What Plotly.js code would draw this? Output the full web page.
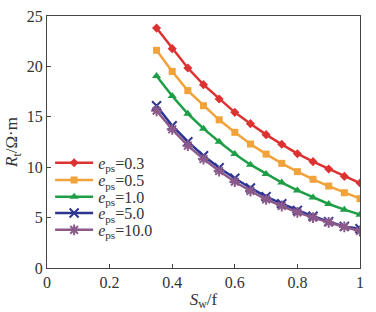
<!DOCTYPE html>
<html>
<head>
<meta charset="utf-8">
<script src="https://cdn.plot.ly/plotly-3.0.1.min.js"></script>
<style>html,body{margin:0;padding:0;background:#fff;}#chart{width:376px;height:312px;}</style>
</head>
<body>
<div id="chart"></div>
<script>
var sw = [0.35, 0.40, 0.45, 0.50, 0.55, 0.60, 0.65, 0.70, 0.75, 0.80, 0.85, 0.90, 0.95, 1.00];
var eps03 = [23.8, 21.76, 19.84, 18.19, 16.77, 15.44, 14.32, 13.23, 12.27, 11.34, 10.55, 9.82, 9.09, 8.43];
var eps05 = [21.6, 19.5, 17.6, 16.1, 14.7, 13.46, 12.3, 11.3, 10.38, 9.56, 8.8, 8.13, 7.47, 6.88];
var eps10 = [19.05, 17.06, 15.3, 13.82, 12.53, 11.3, 10.25, 9.33, 8.47, 7.7, 7.0, 6.35, 5.79, 5.29];
var eps50 = [16.1, 14.12, 12.53, 11.14, 9.95, 8.9, 7.94, 7.08, 6.38, 5.72, 5.13, 4.6, 4.13, 3.9];
var eps100 = [15.6, 13.76, 12.14, 10.81, 9.62, 8.56, 7.64, 6.81, 6.15, 5.52, 5.0, 4.53, 4.07, 3.67];
var seriesNames = ['<i>e</i><sub>ps</sub>=0.3', '<i>e</i><sub>ps</sub>=0.5', '<i>e</i><sub>ps</sub>=1.0', '<i>e</i><sub>ps</sub>=5.0', '<i>e</i><sub>ps</sub>=10.0'];
var xTickVals = [0, 0.2, 0.4, 0.6, 0.8, 1];
var xTickText = ['0', '0.2', '0.4', '0.6', '0.8', '1'];
var yTickVals = [0, 5, 10, 15, 20, 25];

var series = [eps03, eps05, eps10, eps50, eps100];
var colors = ['#dc3232', '#f2a23a', '#1f9e48', '#2d3592', '#8c5a8a'];
var symbols = ['diamond', 'square', 'triangle-up', 'x-thin-open', 'asterisk-open'];
var sizes = [7, 7, 8, 9, 9];
var legendIds = ['legend', 'legend2', 'legend3', 'legend4', 'legend5'];
var legendY = [0.417, 0.349, 0.282, 0.218, 0.151];

var traces = series.map(function (ys, i) {
  return {
    x: sw, y: ys, name: seriesNames[i], type: 'scatter', mode: 'lines+markers',
    legend: legendIds[i],
    line: {color: colors[i], width: 2.5},
    marker: {symbol: symbols[i], size: sizes[i], color: colors[i], line: {color: colors[i], width: (i >= 3 ? 2 : 0)}}
  };
});

var font = 'Liberation Serif, Times New Roman, serif';
var layout = {
  width: 376, height: 312,
  margin: {l: 47, r: 16, t: 16, b: 44},
  paper_bgcolor: '#fff', plot_bgcolor: '#fff',
  font: {family: font, size: 16, color: '#333'},
  showlegend: true,
  xaxis: {
    range: [0, 1], tickvals: xTickVals, ticktext: xTickText,
    ticks: 'inside', ticklen: 4, tickcolor: '#444', showgrid: false, zeroline: false,
    showline: true, linecolor: '#444', linewidth: 1, mirror: true,
    tickfont: {family: font, size: 16, color: '#333'},
    title: {text: '<i>S</i><sub>w</sub>/f', font: {family: font, size: 17, color: '#333'}, standoff: 2}
  },
  yaxis: {
    range: [0, 25], tickvals: yTickVals,
    ticks: 'inside', ticklen: 4, tickcolor: '#444', showgrid: false, zeroline: false,
    showline: true, linecolor: '#444', linewidth: 1, mirror: true,
    tickfont: {family: font, size: 16, color: '#333'},
    title: {text: '<i>R</i><sub>t</sub>/Ω·m', font: {family: font, size: 17, color: '#333'}, standoff: 4}
  }
};
legendIds.forEach(function (id, i) {
  layout[id] = {x: 0.01, y: legendY[i], xanchor: 'left', yanchor: 'middle', bgcolor: 'rgba(0,0,0,0)',
                font: {family: font, size: 16, color: '#333'}, itemwidth: 38};
});
Plotly.newPlot('chart', traces, layout, {displayModeBar: false, staticPlot: true});
</script>
</body>
</html>
